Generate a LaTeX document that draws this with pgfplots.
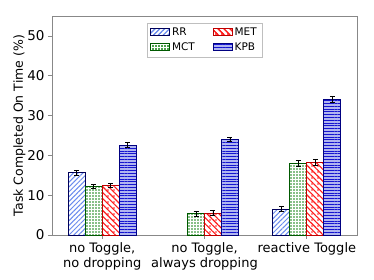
\documentclass[border=0pt]{standalone}
\usepackage{pgfplots}
\pgfplotsset{compat=1.18}
\usepackage{fontspec}
\setmainfont{DejaVu Sans}
\usetikzlibrary{patterns.meta}
\definecolor{rrc}{HTML}{6A8BEE}
\definecolor{mctc}{HTML}{108010}
\definecolor{metc}{HTML}{FF1A1A}
\definecolor{kpbc}{HTML}{1515D0}
\definecolor{kpbbg}{HTML}{B0B5F0}
\definecolor{spine}{HTML}{888888}
\tikzset{
  rrsty/.style={draw=blue!35!black, line width=0.8pt, fill=white, postaction={pattern={Lines[angle=45,distance=3.4pt,line width=1pt]}, pattern color=rrc}},
  mctsty/.style={draw=green!35!black, line width=0.8pt, fill=white, postaction={pattern={Dots[distance=3pt,radius=0.85pt]}, pattern color=mctc}},
  metsty/.style={draw=red!75!black, line width=0.8pt, fill=white, postaction={pattern={Lines[angle=-45,distance=4.2pt,line width=1.1pt]}, pattern color=metc}, postaction={pattern={Dots[distance=6pt,radius=0.9pt]}, pattern color=metc}},
  kpbsty/.style={draw=blue!50!black, line width=0.8pt, fill=kpbbg, postaction={pattern={Lines[angle=0,distance=2.8pt,line width=1pt]}, pattern color=kpbc}},
}
\begin{document}
\begin{tikzpicture}
\begin{axis}[
  scale only axis, width=305pt, height=219pt,
  ybar=0pt, bar width=0.166,
  xmin=-0.49, xmax=2.49, ymin=0, ymax=55,
  xtick={0,1,2},
  xticklabels={{no Toggle,\\no dropping},{no Toggle,\\always dropping},{reactive Toggle}},
  xticklabel style={align=center, font=\fontsize{13}{15}\selectfont},
  ytick={0,10,20,30,40,50},
  yticklabel style={font=\fontsize{13.5}{15}\selectfont},
  /pgf/number format/assume math mode=true,
  ylabel={Task Completed On Time (\%)},
  ylabel style={font=\fontsize{12.5}{14}\selectfont, yshift=-5pt},
  axis line style={spine, line width=0.9pt},
  tick style={spine, line width=0.8pt},
  tick align=outside, major tick length=4pt,
  xtick pos=bottom, ytick pos=left,
  legend columns=2, transpose legend,
  legend cell align=left,
  legend style={at={(0.5,0.97)}, anchor=north, font=\fontsize{10.5}{12}\selectfont,
    draw=black!25, fill=white, inner sep=3pt, row sep=1.5pt,
    /tikz/every even column/.append style={column sep=16pt}},
  error bars/y dir=both, error bars/y explicit,
  error bars/error bar style={black, line width=0.9pt},
  error bars/error mark options={rotate=90, mark size=2.5pt, black, line width=0.9pt},
  clip=false,
]
\addplot[rrsty, legend image code/.code={\path[rrsty] (0pt,-3pt) rectangle (19pt,3.5pt);}]
  coordinates {(0,15.6) +- (0,0.6) (2,6.5) +- (0,0.6)};
\addplot[mctsty, legend image code/.code={\path[mctsty] (0pt,-3pt) rectangle (19pt,3.5pt);}]
  coordinates {(0,12.3) +- (0,0.5) (1,5.3) +- (0,0.6) (2,17.9) +- (0,0.7)};
\addplot[metsty, legend image code/.code={\path[metsty] (0pt,-3pt) rectangle (19pt,3.5pt);}]
  coordinates {(0,12.5) +- (0,0.5) (1,5.5) +- (0,0.6) (2,18.2) +- (0,0.7)};
\addplot[kpbsty, legend image code/.code={\path[kpbsty] (0pt,-3pt) rectangle (19pt,3.5pt);}]
  coordinates {(0,22.6) +- (0,0.7) (1,24.0) +- (0,0.5) (2,34.0) +- (0,0.8)};
\legend{RR,MCT,MET,KPB}
\coordinate (bl) at (rel axis cs:0,0);
\coordinate (tr) at (rel axis cs:1,1);
\end{axis}
\path (bl) ++(-52pt,-45pt) coordinate (a);
\path (tr) ++(17pt,16pt) coordinate (b);
\path (a) rectangle (b);
\end{tikzpicture}
\end{document}
